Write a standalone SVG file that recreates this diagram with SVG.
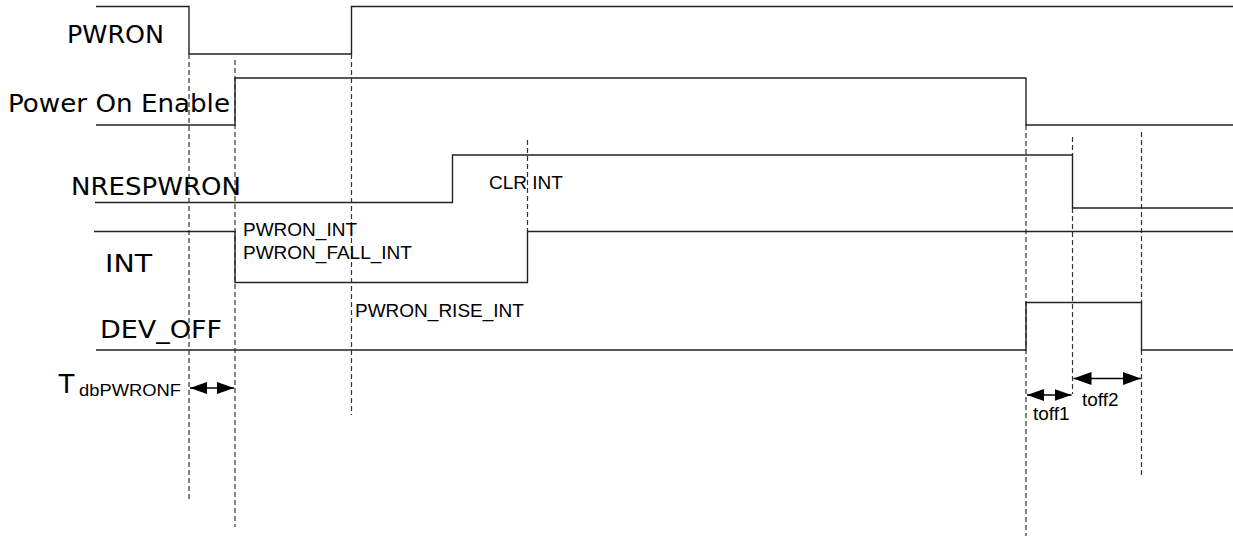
<svg xmlns="http://www.w3.org/2000/svg" width="1233" height="538" viewBox="0 0 1233 538">
<style>
.wave{fill:none;stroke:#222;stroke-width:1.4}
.guide{fill:none;stroke:#333;stroke-width:1.2;stroke-dasharray:5 3}
.dim{fill:none;stroke:#000;stroke-width:1.4}
.lbl{font-family:"DejaVu Sans",Verdana,sans-serif;font-size:25px;fill:#000}
.note{font-family:"Liberation Sans",Arial,sans-serif;font-size:19px;fill:#000}
</style>
<defs>
<marker id="ah" viewBox="0 0 17 12" refX="17" refY="6" markerWidth="17" markerHeight="12" markerUnits="userSpaceOnUse" orient="auto-start-reverse">
<path d="M0,0 L17,6 L0,12 Z" fill="#000"/>
</marker>
<marker id="ahL" viewBox="0 0 18 13" refX="18" refY="6.5" markerWidth="18" markerHeight="13" markerUnits="userSpaceOnUse" orient="auto-start-reverse">
<path d="M0,0 L18,6.5 L0,13 Z" fill="#000"/>
</marker>
</defs>
<rect width="1233" height="538" fill="#fff"/>
<g id="guides">
<line class="guide" x1="189" y1="54" x2="189" y2="501"/>
<line class="guide" x1="235" y1="60" x2="235" y2="527"/>
<line class="guide" x1="351.5" y1="54" x2="351.5" y2="415"/>
<line class="guide" x1="527.5" y1="140" x2="527.5" y2="231"/>
<line class="guide" x1="1026" y1="125" x2="1026" y2="536"/>
<line class="guide" x1="1072.5" y1="137" x2="1072.5" y2="155"/>
<line class="guide" x1="1072.5" y1="208" x2="1072.5" y2="394"/>
<line class="guide" x1="1141.5" y1="132" x2="1141.5" y2="303"/>
<line class="guide" x1="1141.5" y1="350" x2="1141.5" y2="476"/>
</g>
<g id="PWRON">
<text class="lbl" x="67" y="43" textLength="97" lengthAdjust="spacingAndGlyphs">PWRON</text>
<polyline class="wave" points="96,6.5 189,6.5 189,54 351.5,54 351.5,6.5 1233,6.5"/>
</g>
<g id="PowerOnEnable">
<text class="lbl" x="8" y="112" textLength="222" lengthAdjust="spacingAndGlyphs">Power On Enable</text>
<polyline class="wave" points="96,125 235,125 235,78 1026,78 1026,125 1233,125"/>
</g>
<g id="NRESPWRON">
<text class="lbl" x="71" y="195" textLength="170" lengthAdjust="spacingAndGlyphs">NRESPWRON</text>
<polyline class="wave" points="95,202.5 452.5,202.5 452.5,155 1072.5,155 1072.5,208 1233,208"/>
</g>
<g id="INT">
<text class="lbl" x="105" y="272" textLength="47" lengthAdjust="spacingAndGlyphs">INT</text>
<polyline class="wave" points="94,231.5 235,231.5 235,282.5 527.5,282.5 527.5,231.5 1233,231.5"/>
</g>
<g id="DEV_OFF">
<text class="lbl" x="100" y="338" textLength="122" lengthAdjust="spacingAndGlyphs">DEV_OFF</text>
<polyline class="wave" points="96,350 1026,350 1026,302.5 1141.5,302.5 1141.5,350 1233,350"/>
</g>
<g id="annotations">
<text class="note" x="243" y="236">PWRON_INT</text>
<text class="note" x="243" y="259">PWRON_FALL_INT</text>
<text class="note" x="355" y="317">PWRON_RISE_INT</text>
<text class="note" x="489" y="189">CLR INT</text>
<text class="note" x="1033" y="420">toff1</text>
<text class="note" x="1082" y="406">toff2</text>
<text font-family="'Liberation Sans',Arial,sans-serif" fill="#000"><tspan x="58" y="393" font-size="28">T</tspan><tspan x="79" y="396" font-size="17" textLength="102" lengthAdjust="spacingAndGlyphs">dbPWRONF</tspan></text>
</g>
<g id="connectors">
<line class="dim" x1="190" y1="388" x2="234" y2="388" marker-start="url(#ah)" marker-end="url(#ah)"/>
<line class="dim" x1="1027" y1="395" x2="1071.5" y2="395" marker-start="url(#ah)" marker-end="url(#ah)"/>
<line class="dim" x1="1073.5" y1="378.5" x2="1141" y2="378.5" marker-start="url(#ahL)" marker-end="url(#ahL)"/>
</g>
</svg>
